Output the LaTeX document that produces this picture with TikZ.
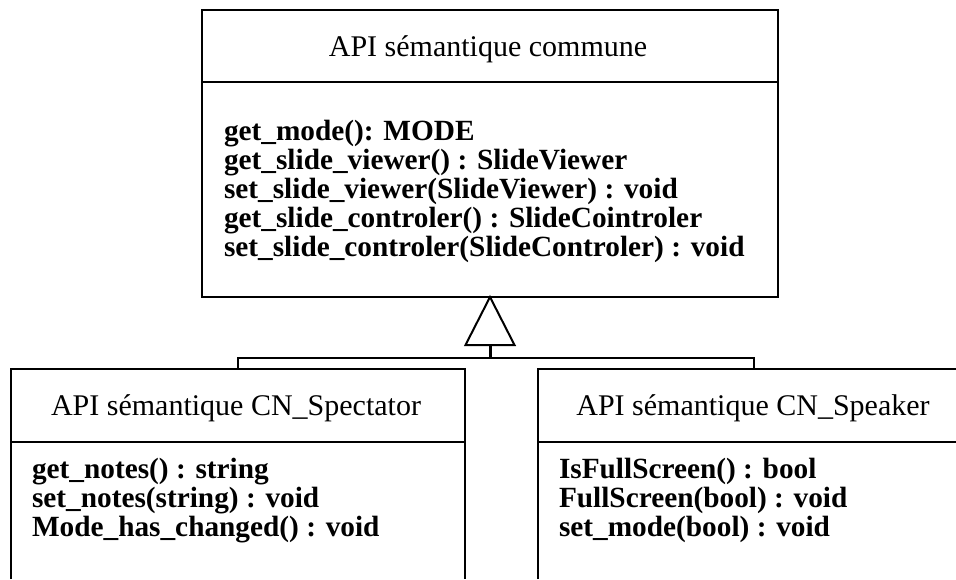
\documentclass[tikz,border=0pt]{standalone}
\usepackage{fontspec}
\setmainfont{Liberation Serif}
\begin{document}
\begin{tikzpicture}[x=1pt,y=-1pt,line width=2pt,
  every node/.style={inner sep=0pt,outer sep=0pt},
  titletext/.style={font=\fontsize{30}{29}\selectfont,anchor=base},
  bodytext/.style={font=\fontsize{29.3}{29}\selectfont\bfseries,anchor=base west},
  boxframe/.style={anchor=north west}]
\useasboundingbox (0,0) rectangle (956,579);
% top class
\node[draw,boxframe,minimum width=576pt,minimum height=287pt] (top) at (202,10) {};
\draw (top.north west |- 0,82) -- (top.north east |- 0,82);
\node[titletext] (toptitle) at (488,56) {API sémantique commune};
\foreach \t [count=\i] in {get\_mode(): MODE,get\_slide\_viewer() : SlideViewer,set\_slide\_viewer(SlideViewer) : void,get\_slide\_controler() : SlideCointroler,set\_slide\_controler(SlideControler) : void}
  \node[bodytext] (tb\i) at (224,{140+29*(\i-1)}) {\t};
% left class (open at bottom)
\node[boxframe,minimum width=454pt,minimum height=210pt] (lbox) at (11,369) {};
\draw (lbox.south west) -- (lbox.north west) -- (lbox.north east) -- (lbox.south east);
\draw (lbox.north west |- 0,442) -- (lbox.north east |- 0,442);
\node[titletext] (ltitle) at (236,415) {API sémantique CN\_Spectator};
\foreach \t [count=\i] in {get\_notes() : string,set\_notes(string) : void,Mode\_has\_changed() : void}
  \node[bodytext] (lb\i) at (32,{478+29*(\i-1)}) {\t};
% right class (cut at right and bottom)
\node[boxframe,minimum width=432pt,minimum height=210pt] (rbox) at (538,369) {};
\draw (rbox.south west) -- (rbox.north west) -- (956,369);
\draw (rbox.north west |- 0,442) -- (956,442);
\node[titletext] (rtitle) at (753,415) {API sémantique CN\_Speaker};
\foreach \t [count=\i] in {IsFullScreen() : bool,FullScreen(bool) : void,set\_mode(bool) : void}
  \node[bodytext] (rb\i) at (559,{478+29*(\i-1)}) {\t};
% generalisation
\coordinate (apex) at (top.south);
\coordinate (tribase) at ([yshift=-48pt]apex);
\coordinate (junction) at ([yshift=-61pt]apex);
\draw[line join=miter] (apex) -- ([xshift=-24.5pt]tribase) -- ([xshift=24.5pt]tribase) -- cycle;
\draw[line width=3pt] (tribase) -- (junction);
\draw (lbox.north) -- (lbox.north |- junction) -- (rbox.north |- junction) -- (rbox.north);
\end{tikzpicture}
\end{document}
